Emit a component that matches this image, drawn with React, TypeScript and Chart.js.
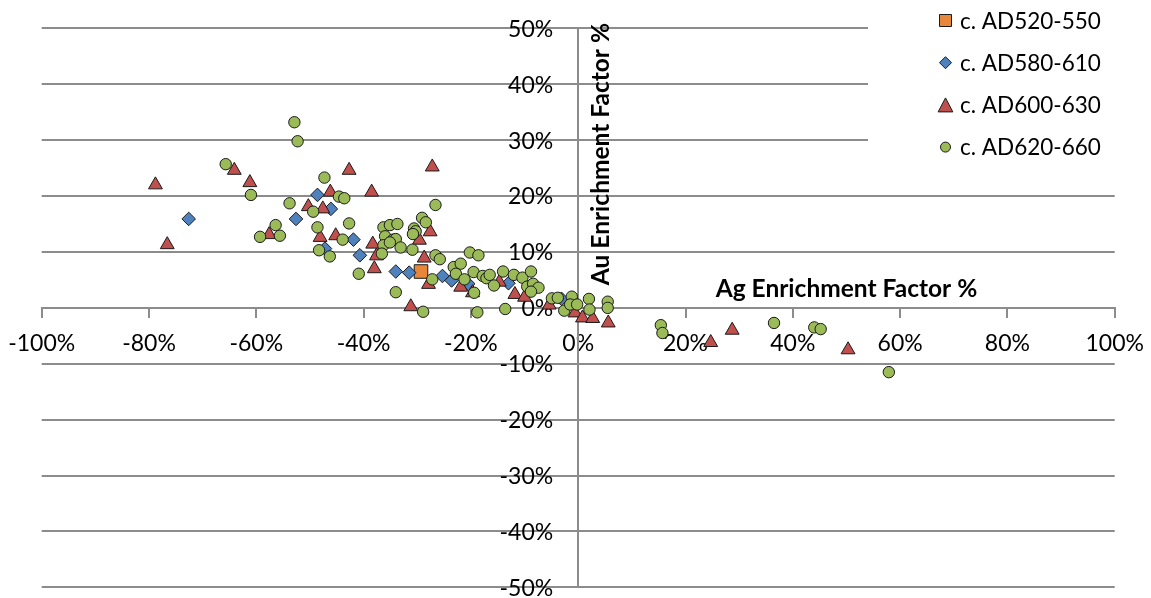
import { useEffect, useRef } from "react";
import { Chart, registerables } from "chart.js";

Chart.register(...registerables);

// Ag / Au enrichment factors (%) per dating group, as [Ag, Au] pairs
const ad520_550: [number, number][] = [[-29.3, 6.5]];

const ad580_610: [number, number][] = [
  [-72.6, 15.9], [-52.6, 15.9], [-48.6, 20.2], [-46.1, 17.7], [-47.2, 10.6],
  [-41.9, 12.2], [-40.7, 9.4], [-34.0, 6.5], [-31.5, 6.3], [-25.3, 5.7],
  [-23.6, 4.9], [-20.5, 4.3], [-13.0, 4.4], [-3.1, 1.6],
];

const ad600_630: [number, number][] = [
  [-78.8, 22.0], [-76.6, 11.3], [-64.1, 24.6], [-61.2, 22.4], [-57.6, 13.1],
  [-50.3, 18.1], [-48.1, 12.6], [-47.6, 17.7], [-46.2, 20.7], [-45.2, 12.9],
  [-42.7, 24.6], [-38.5, 20.7], [-38.3, 11.4], [-37.6, 9.3], [-38.0, 7.0],
  [-31.2, 0.2], [-29.6, 12.1], [-28.7, 8.9], [-27.9, 4.2], [-27.6, 13.6],
  [-27.2, 25.2], [-21.9, 3.7], [-19.7, 2.7], [-14.7, 4.6], [-11.8, 2.4],
  [-10.0, 1.9], [-5.4, 0.5], [-0.6, -0.9], [0.8, -1.8], [2.7, -1.9],
  [5.6, -2.7], [24.7, -6.2], [28.7, -4.0], [50.3, -7.5],
];

const ad620_660: [number, number][] = [
  [-52.9, 33.2], [-52.3, 29.8], [-65.7, 25.7], [-47.3, 23.3], [-61.0, 20.2],
  [-44.6, 19.9], [-43.6, 19.6], [-53.8, 18.7], [-49.4, 17.2], [-42.7, 15.1],
  [-56.4, 14.8], [-48.6, 14.4], [-59.3, 12.7], [-55.6, 12.9], [-43.9, 12.2],
  [-48.3, 10.3], [-46.3, 9.2], [-40.9, 6.1], [-36.3, 14.4], [-35.1, 14.8],
  [-33.7, 15.0], [-36.0, 12.8], [-34.5, 12.2], [-34.0, 12.3], [-36.3, 11.2],
  [-35.1, 11.7], [-33.1, 10.8], [-36.6, 9.7], [-30.6, 14.2], [-30.3, 13.7],
  [-30.8, 13.2], [-29.1, 16.1], [-28.4, 15.3], [-30.9, 10.4], [-26.6, 18.4],
  [-26.6, 9.4], [-25.8, 8.7], [-34.0, 2.8], [-28.9, -0.7], [-27.2, 5.1],
  [-23.2, 7.3], [-21.9, 7.9], [-20.2, 9.9], [-18.6, 9.4], [-22.8, 6.1],
  [-21.2, 5.1], [-19.5, 6.4], [-19.4, 2.7], [-18.8, -0.8], [-17.8, 5.7],
  [-17.1, 5.3], [-16.5, 5.9], [-15.7, 4.0], [-14.0, 6.5], [-12.0, 5.9],
  [-13.6, -0.2], [-10.4, 5.4], [-8.8, 6.5], [-9.5, 3.8], [-8.4, 4.3],
  [-7.4, 3.6], [-8.8, 2.9], [-4.9, 1.7], [-3.8, 1.8], [-2.6, -0.5],
  [-1.2, 2.0], [-1.5, 0.6], [-0.2, 0.6], [2.0, 1.6], [2.1, -0.3],
  [5.5, 1.1], [5.5, 0.0], [15.4, -3.1], [15.7, -4.5], [36.5, -2.7],
  [44.0, -3.5], [45.2, -3.8], [57.9, -11.5],
];

const seriesNames = ["c. AD520-550", "c. AD580-610", "c. AD600-630", "c. AD620-660"];
const seriesPoints = [ad520_550, ad580_610, ad600_630, ad620_660];
const seriesFill = ["#E8873A", "#4F81BD", "#C0504D", "#9BBB59"];
const seriesShape = ["rect", "rectRot", "triangle", "circle"];
const seriesRadius = [9.6, 6.8, 8, 5.7];

// axis ranges and tick spacing (percent)
const xRange = [-100, 100];
const yRange = [-50, 50];
const xStep = 20;
const yStep = 10;

const xTitle = "Ag Enrichment Factor %";
const yTitle = "Au Enrichment Factor %";

const FONT = "Lato, 'Open Sans', sans-serif";
const GRID = "#8c8c8c";
const MARKER_EDGE = "#1a1a1a";

const pct = (v: number) => `${v}%`;

function drawMarker(ctx: CanvasRenderingContext2D, shape: string, x: number, y: number, s: number) {
  ctx.beginPath();
  if (shape === "rect") {
    ctx.rect(x - s, y - s, 2 * s, 2 * s);
  } else if (shape === "rectRot") {
    ctx.moveTo(x, y - s);
    ctx.lineTo(x + s, y);
    ctx.lineTo(x, y + s);
    ctx.lineTo(x - s, y);
    ctx.closePath();
  } else if (shape === "triangle") {
    ctx.moveTo(x, y - s);
    ctx.lineTo(x + s * 1.05, y + s);
    ctx.lineTo(x - s * 1.05, y + s);
    ctx.closePath();
  } else {
    ctx.arc(x, y, s, 0, Math.PI * 2);
  }
  ctx.fill();
  ctx.stroke();
}

// value labels of the vertical axis, set to the left of the axis line
const yTickLabels = {
  id: "yTickLabels",
  beforeDatasetsDraw(chart: any) {
    const { ctx, scales } = chart;
    const x0 = scales.x.getPixelForValue(0);
    ctx.save();
    ctx.fillStyle = "#000";
    ctx.font = `23px ${FONT}`;
    ctx.textAlign = "right";
    ctx.textBaseline = "middle";
    scales.y.ticks.forEach((t: any) => {
      ctx.fillText(pct(t.value), x0 - 25, scales.y.getPixelForValue(t.value) + 1);
    });
    ctx.restore();
  },
};

const axisTitles = {
  id: "axisTitles",
  afterDraw(chart: any) {
    const { ctx, scales } = chart;
    const x0 = scales.x.getPixelForValue(0);
    const y0 = scales.y.getPixelForValue(0);
    ctx.save();
    ctx.fillStyle = "#000";
    ctx.font = `bold 24.5px ${FONT}`;
    ctx.textAlign = "center";
    ctx.textBaseline = "middle";
    ctx.fillText(xTitle, scales.x.getPixelForValue(50), y0 - 19);
    ctx.translate(x0 + 23, scales.y.getPixelForValue(27.5));
    ctx.rotate(-Math.PI / 2);
    ctx.fillText(yTitle, 0, 0);
    ctx.restore();
  },
};

const cornerLegend = {
  id: "cornerLegend",
  afterDraw(chart: any) {
    const { ctx, width } = chart;
    ctx.save();
    ctx.fillStyle = "#ffffff";
    ctx.fillRect(868, 0, width - 868, 178);
    ctx.font = `22.5px ${FONT}`;
    ctx.textAlign = "left";
    ctx.textBaseline = "middle";
    const legendSize = [6, 6, 7, 5];
    seriesNames.forEach((name, i) => {
      const cy = 20.5 + i * 42.2;
      ctx.fillStyle = seriesFill[i];
      ctx.strokeStyle = MARKER_EDGE;
      ctx.lineWidth = 1;
      drawMarker(ctx, seriesShape[i], 945.5, cy, legendSize[i]);
      ctx.fillStyle = "#000";
      ctx.fillText(name, 960, cy + 1);
    });
    ctx.restore();
  },
};

// centred axes must not push the plot area inwards
const noScalePadding = (scale: any) => {
  scale.paddingLeft = 0;
  scale.paddingRight = 0;
  scale.paddingTop = 0;
  scale.paddingBottom = 0;
};

export default function App() {
  const canvasRef = useRef<HTMLCanvasElement | null>(null);

  useEffect(() => {
    const canvas = canvasRef.current;
    if (!canvas) return;
    const chart = new Chart(canvas, {
      type: "scatter",
      data: {
        datasets: seriesPoints.map((pts, i) => ({
          label: seriesNames[i],
          data: pts.map(([x, y]) => ({ x, y })),
          pointStyle: seriesShape[i] as any,
          pointRadius: seriesRadius[i],
          backgroundColor: seriesFill[i],
          borderColor: MARKER_EDGE,
          borderWidth: 1,
          order: seriesNames.length - 1 - i,
        })),
      },
      options: {
        animation: false,
        responsive: false,
        events: [],
        layout: { padding: { left: 41.7, top: 28.3, right: 36.3, bottom: 7.5 } },
        plugins: { legend: { display: false }, tooltip: { enabled: false } },
        scales: {
          x: {
            type: "linear",
            position: { y: 0 } as any,
            min: xRange[0],
            max: xRange[1],
            afterFit: noScalePadding,
            ticks: {
              stepSize: xStep,
              callback: (v: any) => pct(v),
              font: { family: FONT, size: 23 },
              color: "#000",
              padding: 13,
              maxRotation: 0,
              autoSkip: false,
            },
            grid: { drawOnChartArea: false, drawTicks: true, tickLength: 9, color: GRID, lineWidth: 2 },
            border: { display: true, color: GRID, width: 2 },
          },
          y: {
            type: "linear",
            position: { x: 0 } as any,
            min: yRange[0],
            max: yRange[1],
            afterFit: noScalePadding,
            ticks: {
              stepSize: yStep,
              display: false,
            },
            grid: { color: GRID, lineWidth: 2, tickLength: 9 },
            border: { display: true, color: GRID, width: 2 },
          },
        },
      },
      plugins: [yTickLabels, axisTitles, cornerLegend],
    });
    return () => chart.destroy();
  }, []);

  return (
    <div style={{ position: "fixed", left: 0, top: 0, width: 1151, height: 598, overflow: "hidden", background: "#fff" }}>
      <canvas ref={canvasRef} width={1151} height={598} style={{ display: "block" }} />
    </div>
  );
}
